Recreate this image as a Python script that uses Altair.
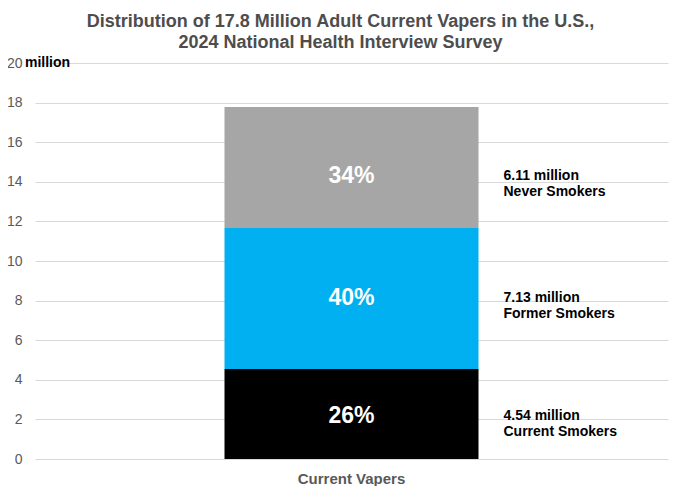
import altair as alt
import pandas as pd

groups = ["Current Smokers", "Former Smokers", "Never Smokers"]
millions = [4.54, 7.13, 6.11]
shares = ["26%", "40%", "34%"]
label_at = [2.15, 8.15, 14.3]
colors = ["#000000", "#00B0F0", "#A6A6A6"]
category = "Current Vapers"
y_ticks = list(range(0, 21, 2))

df = pd.DataFrame(
    {
        "category": category,
        "group": groups,
        "value": millions,
        "order": range(len(groups)),
        "share": shares,
        "label_at": label_at,
        "note": [f"{v:.2f} million\n{g}" for v, g in zip(millions, groups)],
    }
)

FONT = "Liberation Sans"
GREY = "#595959"

x_enc = alt.X(
    "category:N",
    title=None,
    axis=alt.Axis(
        labelAngle=0,
        labelFont=FONT,
        labelFontSize=15,
        labelFontWeight="bold",
        labelColor=GREY,
        labelPadding=12,
        ticks=False,
        domain=False,
        grid=False,
    ),
)

y_scale = alt.Scale(domain=[0, 20], nice=False)
y_axis = alt.Axis(
    values=y_ticks,
    labelOverlap=False,
    labelFont=FONT,
    labelFontSize=14,
    labelColor=GREY,
    labelPadding=13,
    ticks=False,
    domain=False,
    gridColor="#D9D9D9",
    gridWidth=1,
)


def y_enc(field):
    return alt.Y(field, scale=y_scale, title=None, axis=y_axis)


bars = (
    alt.Chart(df)
    .mark_bar(size=254)
    .encode(
        x=x_enc,
        y=alt.Y("value:Q", stack="zero", scale=y_scale, title=None, axis=y_axis),
        color=alt.Color(
            "group:N",
            scale=alt.Scale(domain=groups, range=colors),
            legend=None,
        ),
        order=alt.Order("order:Q"),
    )
)

shares_text = (
    alt.Chart(df)
    .mark_text(font=FONT, fontSize=23, fontWeight="bold", color="white", baseline="middle")
    .encode(x=x_enc, y=y_enc("label_at:Q"), text="share:N")
)

notes = (
    alt.Chart(df)
    .mark_text(
        font=FONT,
        fontSize=14,
        fontWeight="bold",
        color="black",
        align="left",
        baseline="middle",
        lineBreak="\n",
        lineHeight=16,
        dx=152,
    )
    .encode(x=x_enc, y=y_enc("label_at:Q"), text="note:N")
)

unit = (
    alt.Chart(pd.DataFrame({"y": [20], "t": ["million"]}))
    .mark_text(font=FONT, fontSize=14, fontWeight="bold", color="black", align="left", baseline="middle")
    .encode(x=alt.value(-10), y=y_enc("y:Q"), text="t:N")
)

chart = (
    alt.layer(bars, shares_text, notes, unit)
    .properties(
        width=633,
        height=396,
        title=alt.TitleParams(
            text=[
                "Distribution of 17.8 Million Adult Current Vapers in the U.S.,",
                "2024 National Health Interview Survey",
            ],
            font=FONT,
            fontSize=18,
            fontWeight="bold",
            color="#4D4D4D",
            lineHeight=21,
            anchor="middle",
            offset=4,
            dx=-11,
        ),
        autosize=alt.AutoSizeParams(type="none"),
        padding={"left": 27, "top": 55, "right": 4, "bottom": 27},
    )
    .configure_view(stroke=None)
)

chart.save("out.html", embed_options={"renderer": "svg", "actions": False})
